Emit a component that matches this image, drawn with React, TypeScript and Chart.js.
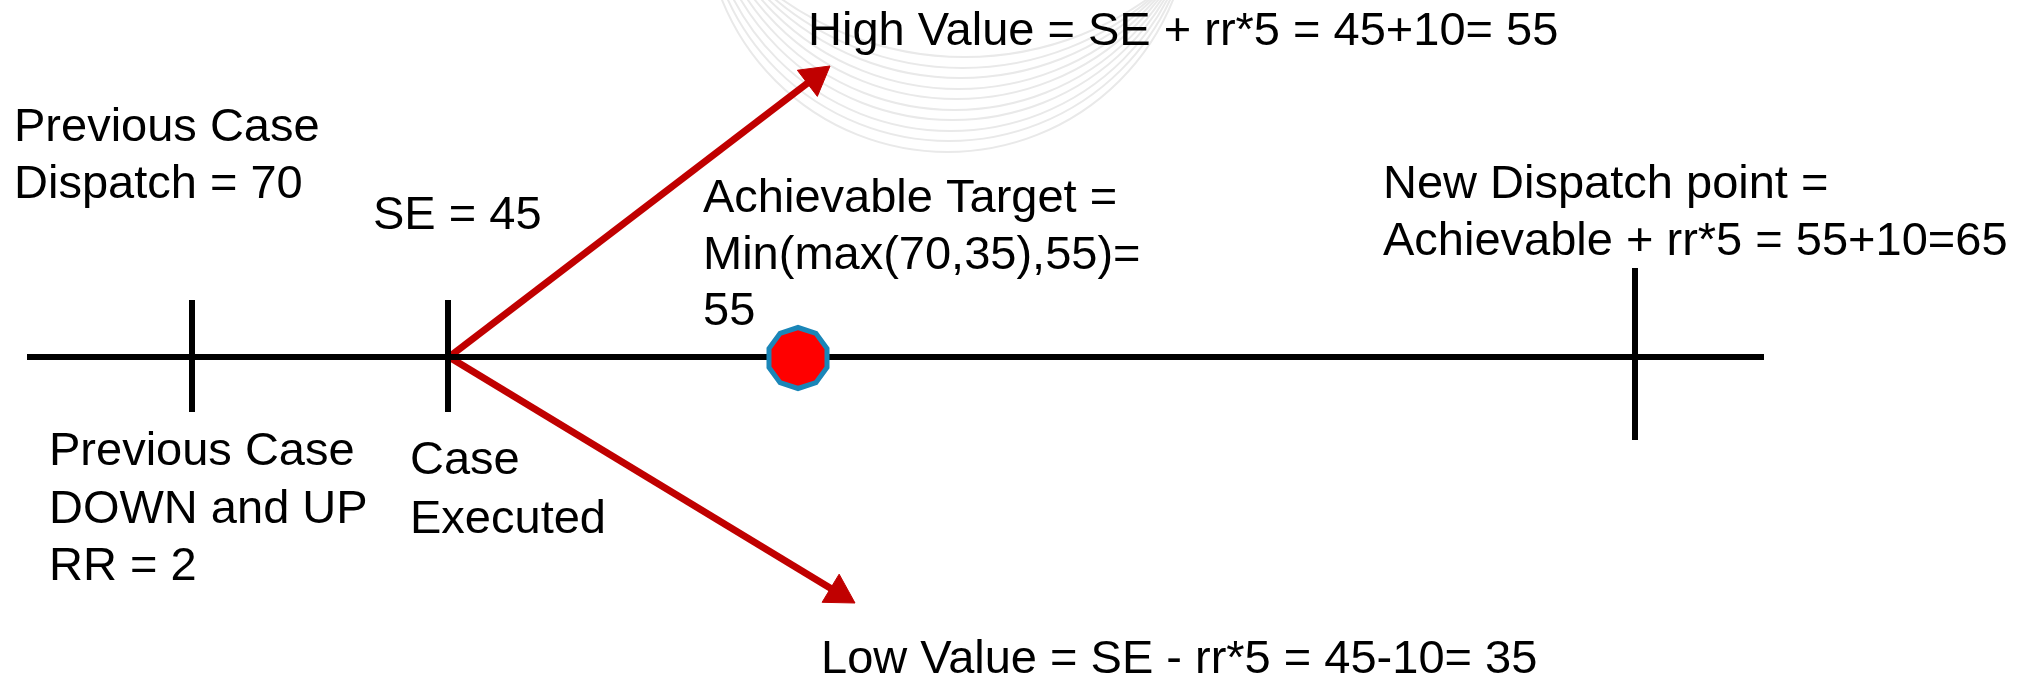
import React, { useEffect, useRef } from "react";
import { Chart, registerables } from "chart.js";

Chart.register(...registerables);

const W = 2035;
const H = 680;

// ---- diagram values (data units = page pixels, y measured downward) ----
const axisStartX = 27;
const axisEndX = 1764;
const axisY = 357;

const tickX = [192, 448, 1635];
const tickTopY = [300, 300, 268];
const tickBottomY = [412, 412, 440];

const arrowStartX = 449;
const arrowStartY = 357;
const arrowTipX = [830, 855];
const arrowTipY = [66, 603];

const targetX = 798;
const targetY = 358;

// faint watermark arcs: left end x, right end x (both at y = 0), lowest y
const arcLeftX = [722, 728, 734, 741, 748, 755, 762, 769, 776, 783];
const arcRightX = [1173, 1170, 1167, 1164, 1161, 1158, 1155, 1152, 1149, 1146];
const arcBottomY = [152, 141, 131, 120, 110, 99, 89, 78, 68, 57];

// text labels
const labelLines: string[][] = [
  ["High Value = SE + rr*5 = 45+10= 55"],
  ["Previous Case", "Dispatch = 70"],
  ["SE = 45"],
  ["Achievable Target =", "Min(max(70,35),55)=", "55"],
  ["New Dispatch point =", "Achievable + rr*5 = 55+10=65"],
  ["Previous Case", "DOWN and UP", "RR = 2"],
  ["Case", "Executed"],
  ["Low Value = SE - rr*5 = 45-10= 35"],
];
const labelX = [808, 14, 373, 703, 1383, 49, 410, 821];
const labelBaseY = [45, 141, 229, 212, 198, 465, 474, 673];
const labelGap = [57, 57, 57, 56.5, 57, 57.5, 59, 57];

const FONT = '47px "Liberation Sans", Arial, Helvetica, sans-serif';
const RED = "#c00000";
const HEAD_R = 19;

function makeDecagon(r: number, border: number, fill: string, stroke: string) {
  const size = Math.ceil(2 * r + 2);
  const c = document.createElement("canvas");
  c.width = size;
  c.height = size;
  const ctx = c.getContext("2d")!;
  const rr = r - border / 2;
  ctx.beginPath();
  for (let k = 0; k < 10; k++) {
    const a = (k * Math.PI) / 5;
    const px = size / 2 + rr * Math.sin(a);
    const py = size / 2 - rr * Math.cos(a);
    if (k === 0) ctx.moveTo(px, py);
    else ctx.lineTo(px, py);
  }
  ctx.closePath();
  ctx.fillStyle = fill;
  ctx.fill();
  ctx.lineWidth = border;
  ctx.lineJoin = "miter";
  ctx.strokeStyle = stroke;
  ctx.stroke();
  return c;
}

const arcsPlugin = {
  id: "arcs",
  beforeDatasetsDraw(chart: any) {
    const { ctx, scales } = chart;
    const sx = scales.x;
    const sy = scales.y;
    ctx.save();
    ctx.strokeStyle = "#e9e9e9";
    ctx.lineWidth = 2;
    for (let i = 0; i < arcLeftX.length; i++) {
      const l = sx.getPixelForValue(arcLeftX[i]);
      const rgt = sx.getPixelForValue(arcRightX[i]);
      const top = sy.getPixelForValue(0);
      const bot = sy.getPixelForValue(arcBottomY[i]);
      const c = (rgt - l) / 2;
      const s = bot - top;
      const r = (c * c + s * s) / (2 * s);
      const cx = l + c;
      const cy = bot - r;
      ctx.beginPath();
      ctx.arc(cx, cy, r, 0, Math.PI);
      ctx.stroke();
    }
    ctx.restore();
  },
};

const textPlugin = {
  id: "labels",
  afterDatasetsDraw(chart: any) {
    const { ctx, scales } = chart;
    ctx.save();
    ctx.font = FONT;
    ctx.fillStyle = "#000";
    ctx.textAlign = "left";
    ctx.textBaseline = "alphabetic";
    labelLines.forEach((lines, i) => {
      lines.forEach((t, j) => {
        const x = scales.x.getPixelForValue(labelX[i]);
        const y = scales.y.getPixelForValue(labelBaseY[i] + j * labelGap[i]);
        ctx.fillText(t, x, y);
      });
    });
    ctx.restore();
  },
};

export default function App() {
  const ref = useRef<HTMLCanvasElement | null>(null);

  useEffect(() => {
    document.body.style.margin = "0";
    document.body.style.overflow = "hidden";
    const canvas = ref.current;
    if (!canvas) return;

    const headCenter = (k: number) => {
      const dx = arrowTipX[k] - arrowStartX;
      const dy = arrowTipY[k] - arrowStartY;
      const len = Math.hypot(dx, dy);
      return {
        x: arrowTipX[k] - (HEAD_R * dx) / len,
        y: arrowTipY[k] - (HEAD_R * dy) / len,
        rot: (Math.atan2(dx, -dy) * 180) / Math.PI,
      };
    };

    const arrowSets = [0, 1].map((k) => {
      const h = headCenter(k);
      return {
        type: "line" as const,
        data: [
          { x: arrowStartX, y: arrowStartY },
          { x: h.x, y: h.y },
        ],
        borderColor: RED,
        borderWidth: 7,
        borderCapStyle: "butt",
        pointRadius: [0, HEAD_R],
        pointStyle: "triangle",
        pointRotation: [0, h.rot],
        pointBackgroundColor: RED,
        pointBorderColor: RED,
        pointBorderWidth: 1,
        order: 3,
      };
    });

    const tickSets = tickX.map((tx, i) => ({
      type: "line" as const,
      data: [
        { x: tx, y: tickTopY[i] },
        { x: tx, y: tickBottomY[i] },
      ],
      borderColor: "#000",
      borderWidth: 6,
      borderCapStyle: "butt",
      pointRadius: 0,
      order: 1,
    }));

    const dotImage = makeDecagon(33, 5, "#ff0000", "#1a86b8");

    const chart = new Chart(canvas, {
      type: "scatter",
      data: {
        datasets: [
          {
            type: "scatter",
            data: [{ x: targetX, y: targetY }],
            pointStyle: dotImage as any,
            pointRadius: 33,
            order: 0,
          } as any,
          ...tickSets,
          {
            type: "line",
            data: [
              { x: axisStartX, y: axisY },
              { x: axisEndX, y: axisY },
            ],
            borderColor: "#000",
            borderWidth: 6,
            borderCapStyle: "butt",
            pointRadius: 0,
            order: 2,
          },
          ...arrowSets,
        ] as any,
      },
      options: {
        animation: false,
        responsive: false,
        events: [],
        layout: { padding: 0, autoPadding: false },
        plugins: {
          legend: { display: false },
          tooltip: { enabled: false },
        },
        scales: {
          x: { type: "linear", min: 0, max: W, display: false },
          y: { type: "linear", min: 0, max: H, reverse: true, display: false },
        },
      } as any,
      plugins: [arcsPlugin, textPlugin],
    });

    return () => chart.destroy();
  }, []);

  return (
    <div style={{ width: W, height: H, background: "#fff" }}>
      <canvas ref={ref} width={W} height={H} style={{ display: "block" }} />
    </div>
  );
}
